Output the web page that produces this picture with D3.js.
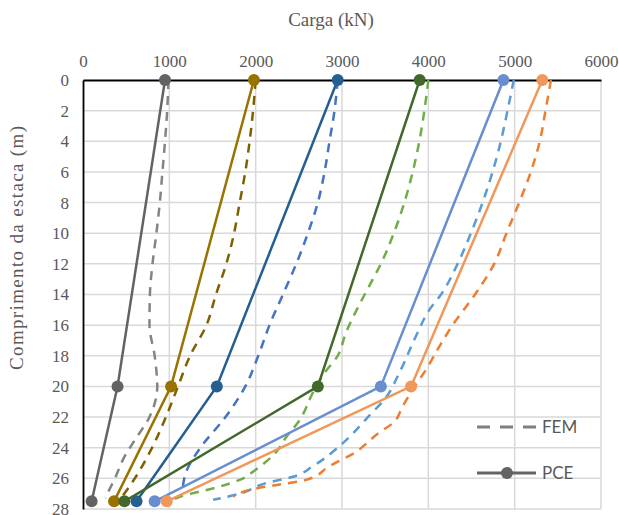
<!DOCTYPE html>
<html lang="pt">
<head>
  <meta charset="UTF-8" />
  <title>Carga x Comprimento da estaca</title>
  <style>
    body { margin: 0; background: #fff; }
    svg { display: block; }
    .serif { font-family: "Liberation Serif", "Times New Roman", "DejaVu Serif", serif; }
  </style>
</head>
<body>
  <div id="chart"></div>

  <script src="https://d3js.org/d3.v7.min.js"></script>

  <script>
    // ticks
    const loadTicks = [0, 1000, 2000, 3000, 4000, 5000, 6000];
    const depthTicks = [0, 2, 4, 6, 8, 10, 12, 14, 16, 18, 20, 22, 24, 26, 28];

    // PCE (solid lines with markers), same depths for every case
    const pceDepth = [0, 20, 27.5];
    const pceGray = [950, 400, 100];
    const pceGold = [1980, 1020, 360];
    const pceBlue = [2950, 1550, 620];
    const pceGreen = [3900, 2720, 480];
    const pceLightBlue = [4870, 3450, 830];
    const pceOrange = [5320, 3800, 970];

    // FEM (dashed lines)
    const femGrayDepth = [0, 2, 4, 6, 8, 10, 12, 14, 16, 18, 20, 22, 23.5, 24.7, 26, 26.8, 27.3];
    const femGrayLoad = [990, 975, 950, 920, 890, 850, 805, 775, 770, 830, 860, 770, 600, 470, 370, 300, 260];

    const femGoldDepth = [0, 2, 4, 6, 8, 10, 12, 14, 16, 18, 20, 22, 24, 26, 27.3];
    const femGoldLoad = [2000, 1970, 1930, 1880, 1815, 1750, 1660, 1540, 1430, 1240, 1100, 960, 800, 600, 440];

    const femBlueDepth = [0, 2, 4, 6, 8, 10, 12, 14, 16, 18, 20, 22, 24, 25.5, 26.9];
    const femBlueLoad = [2950, 2913, 2855, 2798, 2720, 2605, 2470, 2316, 2160, 2030, 1880, 1650, 1360, 1200, 1150];

    const femGreenDepth = [0, 2, 4, 6, 8, 10, 12, 13.5, 15, 16.5, 18, 19.1, 20.4, 22.2, 23.3, 24.4, 25.4, 26.1, 26.6, 27.2, 27.5];
    const femGreenLoad = [4000, 3954, 3896, 3819, 3722, 3600, 3450, 3310, 3170, 3045, 2950, 2800, 2663, 2509, 2355, 2220, 2008, 1815, 1545, 1121, 1006];

    const femLightBlueDepth = [0, 2, 4, 6, 8, 10, 12, 14, 15, 16.7, 19.1, 20.7, 22, 23.7, 25.2, 25.9, 26.3, 27, 27.4];
    const femLightBlueLoad = [4990, 4917, 4840, 4744, 4628, 4493, 4339, 4147, 4012, 3858, 3665, 3511, 3300, 3010, 2663, 2432, 2124, 1815, 1507];

    const femOrangeDepth = [0, 2, 4, 6, 8, 10, 12, 14, 16, 17.4, 18.9, 20.2, 21.3, 22.4, 23, 24.4, 25.2, 26.1, 26.4, 26.7, 27.2];
    const femOrangeLoad = [5420, 5357, 5291, 5187, 5052, 4905, 4763, 4540, 4281, 4127, 3973, 3819, 3703, 3588, 3434, 3125, 2855, 2586, 2277, 1969, 1740];

    const pceSeries = [
      { load: pceGray, color: "#636363" },
      { load: pceGold, color: "#997300" },
      { load: pceBlue, color: "#255e91" },
      { load: pceGreen, color: "#43682b" },
      { load: pceLightBlue, color: "#698ed0" },
      { load: pceOrange, color: "#f1975a" }
    ];

    const femSeries = [
      { depth: femGrayDepth, load: femGrayLoad, color: "#848484" },
      { depth: femGoldDepth, load: femGoldLoad, color: "#7f6000" },
      { depth: femBlueDepth, load: femBlueLoad, color: "#4472c4" },
      { depth: femGreenDepth, load: femGreenLoad, color: "#70ad47" },
      { depth: femLightBlueDepth, load: femLightBlueLoad, color: "#5b9bd5" },
      { depth: femOrangeDepth, load: femOrangeLoad, color: "#ed7d31" }
    ];

    const W = 619, H = 515;
    const plot = { left: 83, right: 601, top: 80, bottom: 509 };

    const svg = d3.select("#chart").append("svg")
      .attr("width", W)
      .attr("height", H);

    const x = d3.scaleLinear().domain([0, 6000]).range([plot.left, plot.right]);
    const y = d3.scaleLinear().domain([0, 28]).range([plot.top, plot.bottom]);

    // gridlines
    svg.append("g")
      .selectAll("line.vgrid")
      .data(loadTicks.slice(1))
      .enter().append("line")
      .attr("x1", d => x(d)).attr("x2", d => x(d))
      .attr("y1", plot.top).attr("y2", plot.bottom)
      .attr("stroke", "#d9d9d9").attr("stroke-width", 1.5);

    svg.append("g")
      .selectAll("line.hgrid")
      .data(depthTicks.slice(1))
      .enter().append("line")
      .attr("x1", plot.left).attr("x2", plot.right)
      .attr("y1", d => y(d)).attr("y2", d => y(d))
      .attr("stroke", "#d9d9d9").attr("stroke-width", 1.5);

    // axes (top and left)
    const xAxis = svg.append("g")
      .attr("transform", `translate(0,${plot.top})`)
      .call(d3.axisTop(x).tickValues(loadTicks).tickSize(0).tickPadding(13).tickFormat(d3.format("d")));
    xAxis.select(".domain").attr("stroke", "#000").attr("stroke-width", 1.8);

    const yAxis = svg.append("g")
      .attr("transform", `translate(${plot.left},0)`)
      .call(d3.axisLeft(y).tickValues(depthTicks).tickSize(0).tickPadding(14).tickFormat(d3.format("d")));
    yAxis.select(".domain").attr("stroke", "#000").attr("stroke-width", 1.8);

    svg.selectAll(".tick text")
      .attr("class", "serif")
      .attr("font-family", null)
      .style("font-size", "17px")
      .attr("fill", "#595959");
    xAxis.attr("font-family", null);
    yAxis.attr("font-family", null);

    // titles
    svg.append("text")
      .attr("class", "serif")
      .attr("x", 331)
      .attr("y", 26)
      .attr("text-anchor", "middle")
      .style("font-size", "19px")
      .attr("fill", "#595959")
      .text("Carga (kN)");

    svg.append("text")
      .attr("class", "serif")
      .attr("transform", "translate(23,248) rotate(-90)")
      .attr("text-anchor", "middle")
      .style("font-size", "19px")
      .attr("textLength", 244)
      .attr("lengthAdjust", "spacing")
      .attr("fill", "#595959")
      .text("Comprimento  da estaca (m)");

    // FEM dashed curves
    const femLine = d3.line()
      .x(d => x(d[0]))
      .y(d => y(d[1]))
      .curve(d3.curveMonotoneY);

    svg.append("g")
      .selectAll("path.fem")
      .data(femSeries)
      .enter().append("path")
      .attr("class", "fem")
      .attr("d", s => femLine(s.load.map((v, i) => [v, s.depth[i]])))
      .attr("fill", "none")
      .attr("stroke", s => s.color)
      .attr("stroke-width", 2.5)
      .attr("stroke-dasharray", "9,7");

    // PCE solid lines with markers
    const pceLine = d3.line()
      .x(d => x(d[0]))
      .y(d => y(d[1]));

    const pce = svg.append("g")
      .selectAll("g.pce")
      .data(pceSeries)
      .enter().append("g")
      .attr("class", "pce");

    pce.append("path")
      .attr("d", s => pceLine(s.load.map((v, i) => [v, pceDepth[i]])))
      .attr("fill", "none")
      .attr("stroke", s => s.color)
      .attr("stroke-width", 2.5);

    pce.selectAll("circle")
      .data(s => s.load.map((v, i) => ({ v: v, d: pceDepth[i], color: s.color })))
      .enter().append("circle")
      .attr("cx", d => x(d.v))
      .attr("cy", d => y(d.d))
      .attr("r", 6)
      .attr("fill", d => d.color);

    // legend
    const legend = svg.append("g");
    const legendFont = "Lato, 'Liberation Sans', sans-serif";

    legend.append("line")
      .attr("x1", 477).attr("x2", 536)
      .attr("y1", 427).attr("y2", 427)
      .attr("stroke", "#7f7f7f")
      .attr("stroke-width", 3)
      .attr("stroke-dasharray", "13,10");
    legend.append("text")
      .attr("x", 542).attr("y", 433)
      .attr("font-family", legendFont)
      .attr("font-size", "17px")
      .attr("fill", "#595959")
      .text("FEM");

    legend.append("line")
      .attr("x1", 477).attr("x2", 536)
      .attr("y1", 473).attr("y2", 473)
      .attr("stroke", "#636363")
      .attr("stroke-width", 3);
    legend.append("circle")
      .attr("cx", 507).attr("cy", 473)
      .attr("r", 6)
      .attr("fill", "#636363");
    legend.append("text")
      .attr("x", 542).attr("y", 479)
      .attr("font-family", legendFont)
      .attr("font-size", "17px")
      .attr("fill", "#595959")
      .text("PCE");
  </script>
</body>
</html>
